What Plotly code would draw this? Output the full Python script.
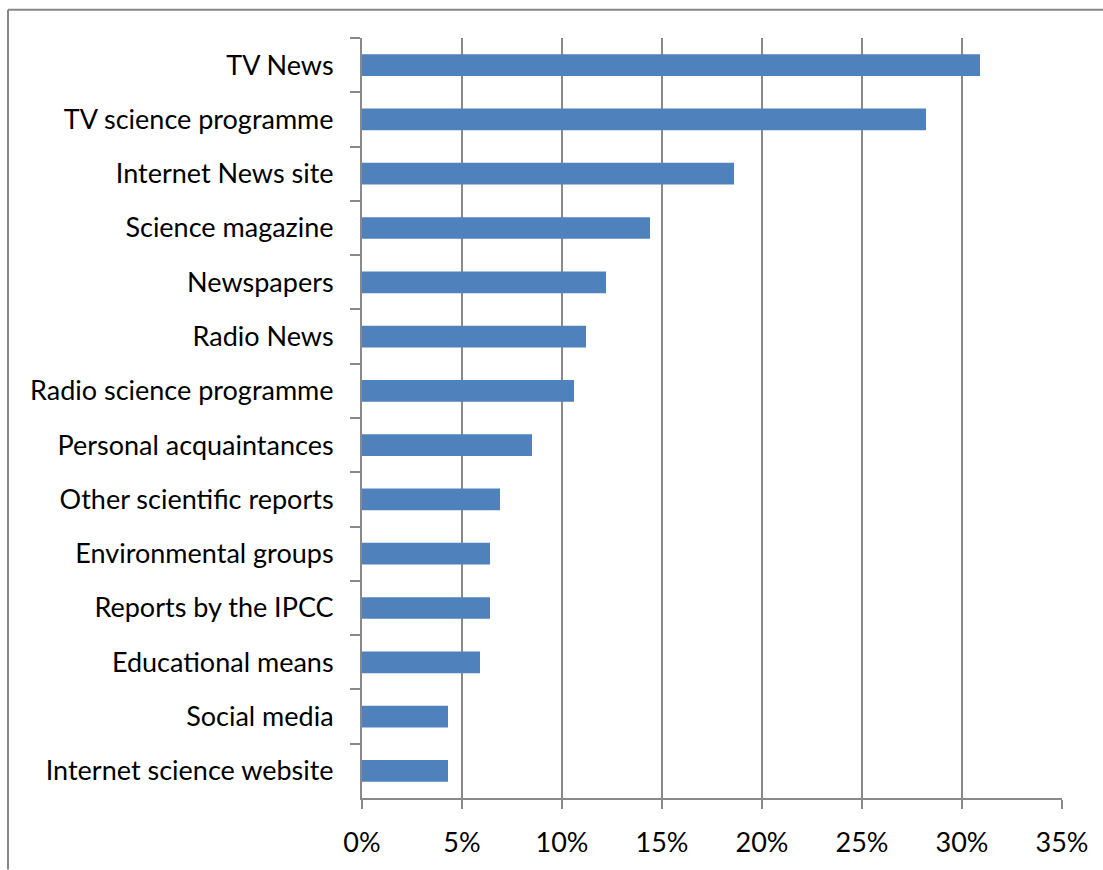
import plotly.graph_objects as go

# Sources of information (top to bottom) and share of respondents, in percent
sources = [
    "TV News",
    "TV science programme",
    "Internet News site",
    "Science magazine",
    "Newspapers",
    "Radio News",
    "Radio science programme",
    "Personal acquaintances",
    "Other scientific reports",
    "Environmental groups",
    "Reports by the IPCC",
    "Educational means",
    "Social media",
    "Internet science website",
]
shares = [30.9, 28.2, 18.6, 14.4, 12.2, 11.2, 10.6, 8.5, 6.9, 6.4, 6.4, 5.9, 4.3, 4.3]

x_ticks = [0, 5, 10, 15, 20, 25, 30, 35]
x_tick_labels = [f"{v}%" for v in x_ticks]

GRID = "#898989"
FONT = dict(family="Lato, Carlito, Calibri, sans-serif", size=27, color="#000000")

fig = go.Figure(
    go.Bar(
        x=shares,
        y=sources,
        orientation="h",
        marker=dict(color="#4F81BD", line=dict(width=0)),
        hoverinfo="x+y",
    )
)

# Plot area in pixels, used to place the outer chart frame
W, H = 1103, 870
L, R, T, B = 362, 41, 38, 67
pw, ph = W - L - R, H - T - B


def px_x(px):
    return (px - L) / pw


def px_y(py):
    return (H - B - py) / ph


fig.update_layout(
    width=W,
    height=H,
    margin=dict(l=L, r=R, t=T, b=B, pad=0),
    paper_bgcolor="white",
    plot_bgcolor="white",
    bargap=0.6,
    showlegend=False,
    font=FONT,
    xaxis=dict(
        range=[0, 35],
        tickmode="array",
        tickvals=x_ticks,
        ticktext=x_tick_labels,
        showgrid=True,
        gridcolor=GRID,
        gridwidth=2,
        zeroline=False,
        showline=True,
        linecolor=GRID,
        linewidth=2,
        ticks="outside",
        ticklen=9,
        tickwidth=2,
        tickcolor=GRID,
        ticklabelstandoff=11,
        tickfont=FONT,
        fixedrange=True,
    ),
    yaxis=dict(
        autorange="reversed",
        type="category",
        showgrid=False,
        zeroline=False,
        showline=True,
        linecolor=GRID,
        linewidth=2,
        ticks="outside",
        tickson="boundaries",
        ticklen=10,
        tickwidth=2,
        tickcolor=GRID,
        ticklabelstandoff=21,
        tickfont=FONT,
        fixedrange=True,
    ),
    shapes=[
        # outer chart frame (top and left edges)
        dict(type="line", xref="paper", yref="paper",
             x0=px_x(8), x1=px_x(W + 5), y0=px_y(9.5), y1=px_y(9.5),
             line=dict(color="#878787", width=2)),
        dict(type="line", xref="paper", yref="paper",
             x0=px_x(8), x1=px_x(8), y0=px_y(9.5), y1=px_y(H + 5),
             line=dict(color="#878787", width=2)),
    ],
)

fig.write_html("out.html", config={"displayModeBar": False})
